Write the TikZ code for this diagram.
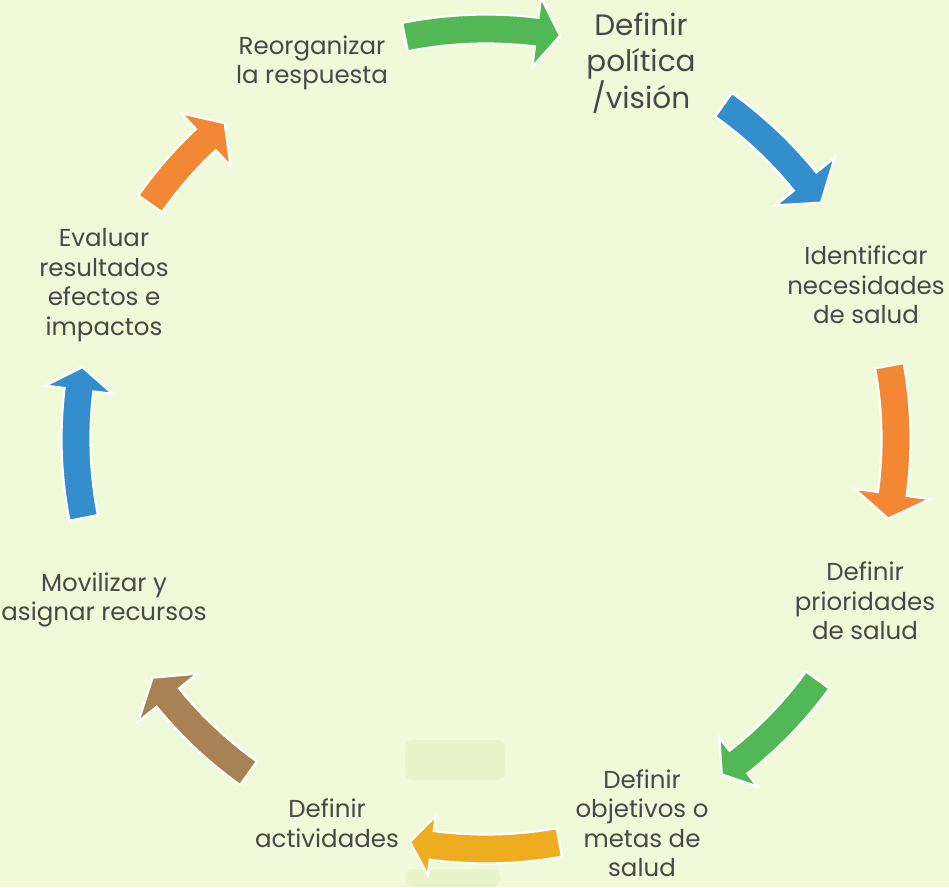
\documentclass[tikz,border=0pt]{standalone}
\usepackage{fontspec}
\setmainfont{Poppins}
\definecolor{bgc}{RGB}{240,250,216}
\definecolor{ghost}{RGB}{231,244,204}
\definecolor{txt}{RGB}{72,72,72}
\definecolor{cgreen}{RGB}{82,184,86}
\definecolor{cblue}{RGB}{52,142,206}
\definecolor{corange}{RGB}{242,135,52}
\definecolor{cyellow}{RGB}{238,173,32}
\definecolor{cbrown}{RGB}{166,130,84}
\newcommand\cycarrow[5]{% colour, start, head base, tip, half head width
  \filldraw[arrowshape, fill=#1]
    (#2:424.5) arc[start angle=#2, end angle=#3, radius=424.5]
    -- (#3:410+#5) -- (#4:410) -- (#3:410-#5)
    -- (#3:395.5) arc[start angle=#3, end angle=#2, radius=395.5] -- cycle;
}
\begin{document}
\begin{tikzpicture}[x=1pt,y=1pt,
  arrowshape/.style={draw=white, line width=2.2pt, line join=miter},
  lbl/.style={text=txt, align=center, inner sep=0pt, font=\fontsize{24.5}{29.5}\selectfont},
  biglbl/.style={text=txt, align=center, inner sep=0pt, font=\fontsize{29.5}{36.5}\selectfont}]
\useasboundingbox (0,0) rectangle (949,887);
\fill[bgc] (0,0) rectangle (949,887);
\fill[ghost, rounded corners=8pt] (405,107) rectangle (505,147);
\fill[ghost, rounded corners=8pt] (405,0) rectangle (500,18);
\begin{scope}[shift={(486,448)}]
  \cycarrow{cgreen}{101.4}{82.9}{79.6}{35}
  \cycarrow{cblue}{54.6}{38.9}{35.2}{38}
  \cycarrow{corange}{10.3}{-7.7}{-11.2}{38}
  \cycarrow{cgreen}{-36.0}{-52.0}{-54.9}{31}
  \cycarrow{cyellow}{-79.7}{-97.6}{-100.7}{30}
  \cycarrow{cbrown}{-125.4}{-140.9}{-144.4}{38}
  \cycarrow{cblue}{191.1}{173.1}{169.9}{34}
  \cycarrow{corange}{145}{133.1}{129.6}{36}
\end{scope}
\node[biglbl] (vision) at (641,824) {Definir\\política\\/visión};
\node[lbl] (necesidades) at (866,602) {Identificar\\necesidades\\de salud};
\node[lbl] (prioridades) at (865,286) {Definir\\prioridades\\de salud};
\node[lbl] (objetivos) at (642,64) {Definir\\objetivos o\\metas de\\salud};
\node[lbl] (actividades) at (327,64) {Definir\\actividades};
\node[lbl] (recursos) at (104,287) {Movilizar y\\asignar recursos};
\node[lbl] (evaluar) at (104,602) {Evaluar\\resultados\\efectos e\\impactos};
\node[lbl] (reorganizar) at (312,824) {Reorganizar\\la respuesta};
\end{tikzpicture}
\end{document}
